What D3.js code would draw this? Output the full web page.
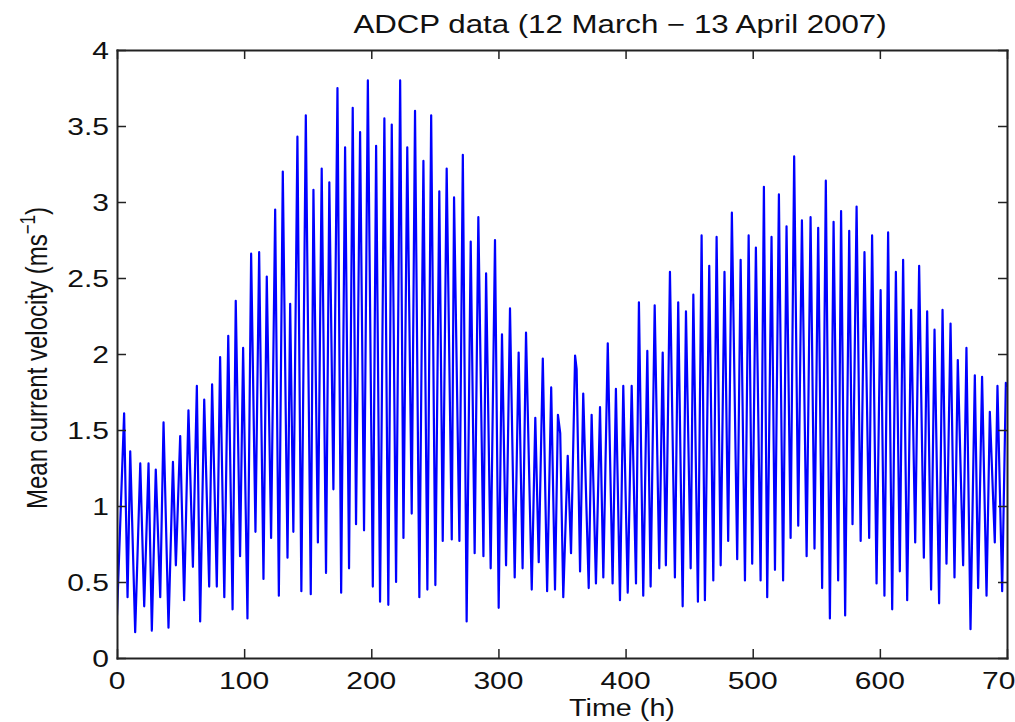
<!DOCTYPE html>
<html>
<head>
<meta charset="utf-8">
<script src="https://cdn.jsdelivr.net/npm/d3@7"></script>
<style>
  html, body { margin: 0; padding: 0; background: #fff; }
  svg { display: block; }
  text { font-family: "Liberation Sans", Arial, Helvetica, sans-serif; fill: #111; }
</style>
</head>
<body>
<svg id="chart" width="1015" height="722"></svg>
<script>
// Mean current velocity from the ADCP record, sampled at flood/ebb peaks and slack minima
const hours = [
  0, 5.6, 8.3, 10.4, 14.3, 18.3, 21.4, 24.8, 27.4, 30.5, 34.0, 36.6, 40.5, 44.0, 46.3, 49.7, 52.8, 56.2, 59.7, 62.8, 65.4, 68.6, 72.5, 74.8, 78.5, 81.1, 84.4,
  87.5, 90.9, 93.4, 96.8, 99.2, 102.6, 105.5, 108.9, 111.8, 115.2, 117.8, 121.2, 124.4, 127.3, 130.4, 134.1, 136.2, 138.7, 141.9, 145.0, 148.5, 152.4, 154.5, 158.0, 161.0, 164.4, 167.0, 170.2,
  173.4, 176.3, 179.4, 182.5, 185.4, 188.0, 191.2, 194.3, 197.3, 201.2, 203.8, 206.9, 210.3, 213.4, 216.1, 219.5, 222.7, 225.3, 228.3, 231.8, 234.4, 237.8, 241.0, 244.1, 247.1, 250.4, 253.5, 256.2,
  259.3, 263.3, 265.1, 269.3, 272.0, 275.0, 278.2, 281.3, 284.2, 288.2, 290.3, 293.9, 297.3, 300.2, 302.8, 306.0, 309.1, 312.8, 315.9, 319.0, 321.7, 326.2, 329.0, 331.7, 334.9, 338.3, 341.5,
  344.5, 346.8, 348.6, 351.0, 354.5, 357.1, 360.3, 361.5, 364.2, 366.7, 371.0, 373.3, 376.7, 379.9, 382.5, 386.0, 389.8, 392.4, 395.6, 398.2, 401.7, 404.8, 408.2, 410.5, 413.9, 417.1, 419.7, 422.9, 426.5, 429.2,
  431.7, 434.9, 438.8, 441.4, 444.9, 447.5, 451.2, 453.3, 456.9, 459.8, 462.4, 465.8, 469.0, 471.6, 474.8, 477.8, 480.7, 483.6, 487.8, 490.5, 493.9, 496.8, 499.6, 502.5, 506.2, 508.8, 511.4, 514.8,
  517.5, 520.6, 523.9, 526.6, 529.8, 532.6, 535.8, 538.7, 542.4, 545.5, 548.6, 551.5, 554.6, 557.5, 560.7, 563.6, 567.2, 569.5, 572.7, 575.9, 578.5, 581.7, 584.9, 587.9, 591.6, 593.9, 597.4, 600.6, 603.6,
  606.5, 609.7, 612.6, 615.7, 618.3, 621.5, 624.6, 627.8, 630.9, 634.6, 637.2, 640.3, 643.0, 646.6, 649.3, 652.4, 655.6, 658.7, 661.3, 665.5, 668.1, 671.3, 674.7, 677.3, 680.4, 683.9, 686.5, 690.4, 692.5, 696.2, 699.1, 700
];

const velocity = [
  0.28, 1.61, 0.40, 1.36, 0.17, 1.28, 0.34, 1.28, 0.18, 1.24, 0.40, 1.55, 0.20, 1.29, 0.61, 1.46, 0.38, 1.63, 0.60, 1.79, 0.24, 1.70, 0.47, 1.80, 0.47, 1.98, 0.40,
  2.12, 0.32, 2.35, 0.67, 2.04, 0.26, 2.66, 0.83, 2.67, 0.52, 2.51, 0.79, 2.95, 0.41, 3.20, 0.66, 2.33, 0.83, 3.43, 0.44, 3.57, 0.42, 3.08, 0.76, 3.22, 0.56, 3.13, 1.11,
  3.75, 0.43, 3.36, 0.59, 3.62, 0.88, 3.46, 0.84, 3.80, 0.47, 3.37, 0.37, 3.55, 0.35, 3.51, 0.50, 3.80, 0.79, 3.36, 0.95, 3.60, 0.40, 3.27, 0.45, 3.57, 0.48, 3.07, 0.77,
  3.22, 0.78, 3.03, 0.77, 3.31, 0.24, 2.74, 0.69, 2.90, 0.67, 2.53, 0.59, 2.75, 0.33, 2.13, 0.61, 2.30, 0.53, 2.01, 0.59, 2.14, 0.45, 1.58, 0.63, 1.97, 0.44, 1.78,
  0.45, 1.60, 1.48, 0.40, 1.33, 0.69, 1.99, 1.90, 0.57, 1.74, 0.46, 1.60, 0.49, 1.65, 0.53, 2.07, 0.49, 1.77, 0.38, 1.79, 0.43, 1.79, 0.49, 2.34, 0.41, 2.02, 0.47, 2.32, 0.59, 2.01,
  0.61, 2.54, 0.53, 2.34, 0.34, 2.28, 0.59, 2.39, 0.37, 2.78, 0.38, 2.58, 0.51, 2.77, 0.61, 2.54, 0.77, 2.93, 0.65, 2.62, 0.51, 2.78, 0.62, 2.70, 0.51, 3.10, 0.40, 2.77,
  0.58, 3.05, 0.51, 2.84, 0.79, 3.30, 0.87, 2.88, 0.67, 2.90, 0.72, 2.83, 0.46, 3.14, 0.26, 2.87, 0.51, 2.94, 0.28, 2.81, 0.88, 2.97, 0.77, 2.67, 0.79, 2.78, 0.49, 2.42, 0.41,
  2.80, 0.32, 2.54, 0.57, 2.62, 0.38, 2.29, 0.76, 2.58, 0.66, 2.28, 0.45, 2.16, 0.36, 2.29, 0.62, 2.20, 0.53, 1.96, 0.61, 2.04, 0.19, 1.86, 0.46, 1.85, 0.41, 1.62, 0.76, 1.79, 0.44, 1.81, 1.78
];

const xTicks = [0, 100, 200, 300, 400, 500, 600, 700];
const yTicks = [0, 0.5, 1, 1.5, 2, 2.5, 3, 3.5, 4];
const yTickLabels = ["0", "0.5", "1", "1.5", "2", "2.5", "3", "3.5", "4"];

const titleText = "ADCP data (12 March \u2212 13 April 2007)";
const xLabelText = "Time (h)";

// ---- layout ----
const W = 1015, H = 722;
const plotLeft = 117, plotRight = 1007, plotTop = 50, plotBottom = 658;
const stretch = 1.25;          // wide-set lettering
const fontSize = 24;
const tickLen = 9;
const axisColor = "#222";

const svg = d3.select("#chart");
svg.append("rect").attr("width", W).attr("height", H).attr("fill", "#fff");

const x = d3.scaleLinear().domain([0, 700]).range([plotLeft, plotRight]);
const y = d3.scaleLinear().domain([0, 4]).range([plotBottom, plotTop]);

const series = hours.map((h, i) => ({ t: h, v: velocity[i] }));

// clip the trace to the axes box
svg.append("defs").append("clipPath").attr("id", "plotClip")
  .append("rect").attr("x", plotLeft).attr("y", plotTop)
  .attr("width", plotRight - plotLeft).attr("height", plotBottom - plotTop);

const line = d3.line().x(d => x(d.t)).y(d => y(d.v));

svg.append("path")
  .datum(series)
  .attr("clip-path", "url(#plotClip)")
  .attr("fill", "none")
  .attr("stroke", "#0000ff")
  .attr("stroke-width", 2.2)
  .attr("stroke-linejoin", "round")
  .attr("d", line);

// ---- axes box with inward ticks on all sides ----
const gx = svg.append("g");
const bottomAxis = d3.axisBottom(x).tickValues(xTicks).tickSize(-tickLen).tickSizeOuter(0).tickFormat("");
const topAxis = d3.axisTop(x).tickValues(xTicks).tickSize(-tickLen).tickSizeOuter(0).tickFormat("");
const leftAxis = d3.axisLeft(y).tickValues(yTicks).tickSize(-tickLen).tickSizeOuter(0).tickFormat("");
const rightAxis = d3.axisRight(y).tickValues(yTicks).tickSize(-tickLen).tickSizeOuter(0).tickFormat("");

function styleAxis(g) {
  g.selectAll("path").attr("stroke", axisColor).attr("stroke-width", 2);
  g.selectAll("line").attr("stroke", axisColor).attr("stroke-width", 1.5);
}
gx.append("g").attr("transform", `translate(0,${plotBottom})`).call(bottomAxis).call(styleAxis);
gx.append("g").attr("transform", `translate(0,${plotTop})`).call(topAxis).call(styleAxis);
gx.append("g").attr("transform", `translate(${plotLeft},0)`).call(leftAxis).call(styleAxis);
gx.append("g").attr("transform", `translate(${plotRight},0)`).call(rightAxis).call(styleAxis);
gx.selectAll(".domain").attr("stroke-linecap", "square");

// ---- text helpers ----
function label(px, py, str, anchor, size) {
  return svg.append("text")
    .attr("transform", `translate(${px},${py}) scale(${stretch},1)`)
    .attr("text-anchor", anchor)
    .attr("font-size", size)
    .text(str);
}

// x tick labels
xTicks.forEach(t => label(x(t), 689, String(t), "middle", fontSize));

// y tick labels
yTicks.forEach((v, i) => label(109, y(v) + 8.5, yTickLabels[i], "end", fontSize));

// title
label(620, 33, titleText, "middle", 25);

// x axis label
label(622, 716, xLabelText, "middle", 23);

// y axis label (rotated, with superscript unit)
const yl = svg.append("text")
  .attr("transform", `translate(47,358) scale(${stretch},1) rotate(-90)`)
  .attr("text-anchor", "middle")
  .attr("font-size", fontSize);
yl.append("tspan").text("Mean current velocity (ms");
yl.append("tspan").attr("font-size", 17).attr("dy", -10).text("\u22121");
yl.append("tspan").attr("dy", 10).text(")");
</script>
</body>
</html>
